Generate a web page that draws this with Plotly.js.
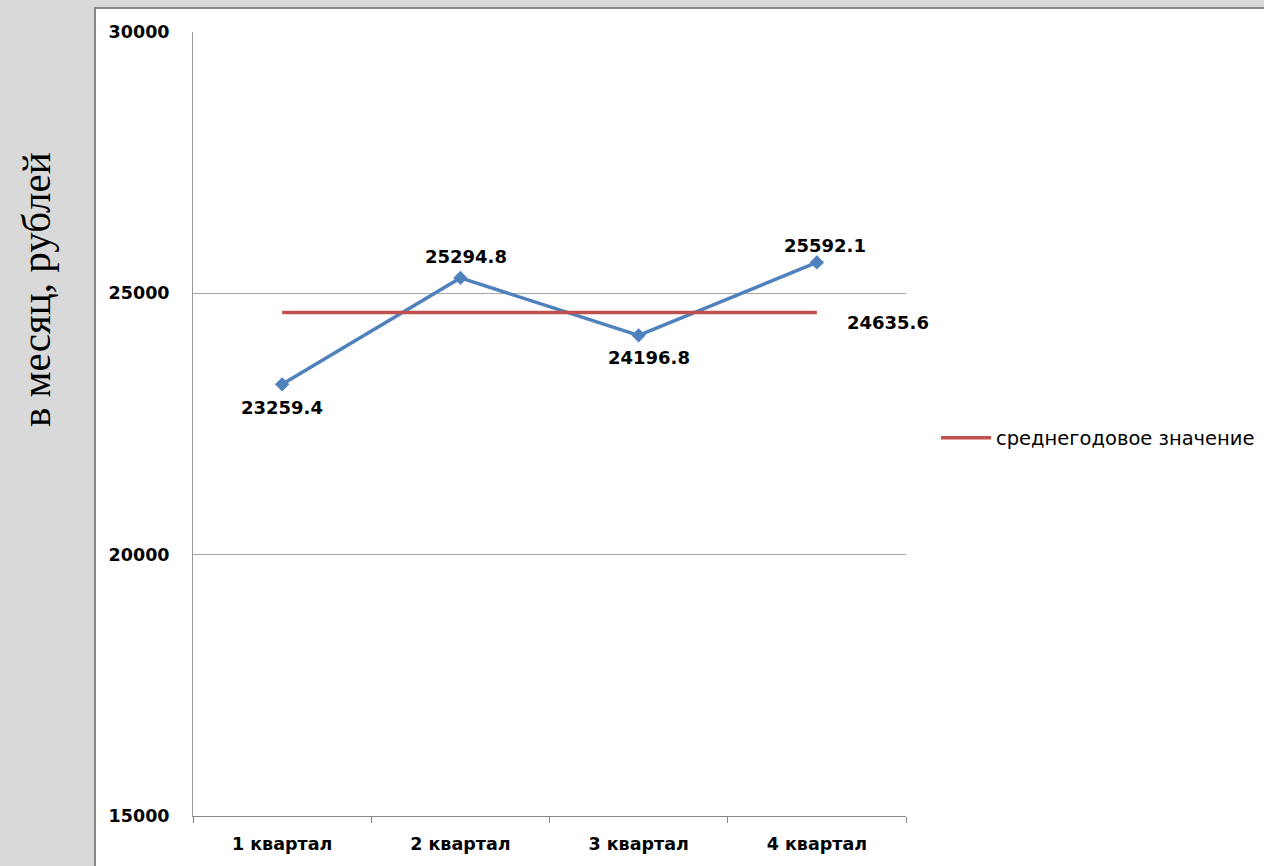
<!DOCTYPE html>
<html>
<head>
<meta charset="utf-8">
<script src="https://cdn.plot.ly/plotly-3.0.1.min.js"></script>
<style>html,body{margin:0;padding:0;background:#d9d9d9;}#chart{width:1264px;height:866px;}</style>
</head>
<body>
<div id="chart"></div>
<script>
const categories = ['1 квартал', '2 квартал', '3 квартал', '4 квартал'];
const quarterValues = [23259.4, 25294.8, 24196.8, 25592.1];
const averageValue = 24635.6;
const averageValues = [averageValue, averageValue, averageValue, averageValue];
const averageName = 'среднегодовое значение';
const yTitle = 'в месяц, рублей';
const yTickValues = [15000, 20000, 25000, 30000];

const W = 1264, H = 866;
const L = 193, R = 358, T = 32, B = 50;
const pw = W - L - R, ph = H - T - B;
const px = v => (v - L) / pw;
const py = v => (H - B - v) / ph;

const labelOffsets = [[0, -23], [6, 21], [10, -22], [8, 17]];
const labelFont = {family: 'DejaVu Sans', size: 18, color: '#000', weight: 'bold'};
const tickFont = {family: 'DejaVu Sans', size: 17.5, color: '#000', weight: 'bold'};

const annotations = quarterValues.map((v, i) => ({
  x: categories[i], y: v, xref: 'x', yref: 'y', text: v.toFixed(1),
  showarrow: false, xshift: labelOffsets[i][0], yshift: labelOffsets[i][1],
  font: labelFont
}));
annotations.push({
  x: categories[categories.length - 1], y: averageValue, xref: 'x', yref: 'y',
  text: averageValue.toFixed(1), showarrow: false, xshift: 71, yshift: -10, font: labelFont
});
annotations.push({
  x: px(36), y: py(290), xref: 'paper', yref: 'paper', text: yTitle, textangle: -90,
  showarrow: false, xanchor: 'center', yanchor: 'middle',
  font: {family: 'Liberation Serif', size: 41, color: '#000'}
});

const traces = [
  {
    x: categories, y: quarterValues, type: 'scatter', mode: 'lines+markers',
    line: {color: '#4f81bd', width: 3.5},
    marker: {symbol: 'diamond', size: 11, color: '#4f81bd'},
    showlegend: false, hoverinfo: 'x+y'
  },
  {
    x: categories, y: averageValues, type: 'scatter', mode: 'lines',
    name: averageName,
    line: {color: '#c0504d', width: 3.5},
    showlegend: true
  }
];

const layout = {
  width: W, height: H,
  margin: {l: L, r: R, t: T, b: B, pad: 0, autoexpand: false},
  paper_bgcolor: '#d9d9d9',
  plot_bgcolor: 'rgba(0,0,0,0)',
  font: {family: 'DejaVu Sans', color: '#000'},
  shapes: [{
    type: 'rect', xref: 'paper', yref: 'paper', layer: 'below',
    x0: px(95), x1: px(1280), y0: py(8), y1: py(880),
    fillcolor: '#ffffff', line: {color: '#888888', width: 2}
  }],
  xaxis: {
    type: 'category', tickson: 'boundaries', ticks: 'outside', ticklen: 6,
    tickcolor: '#888', showgrid: false, showline: true, linecolor: '#888', linewidth: 1,
    tickfont: tickFont,
    ticklabelstandoff: 12, zeroline: false, range: [-0.5, 3.5]
  },
  yaxis: {
    range: [15000, 30000], tickvals: yTickValues, ticktext: yTickValues.map(String),
    showgrid: true, gridcolor: '#a6a6a6', gridwidth: 1,
    showline: true, linecolor: '#999', linewidth: 1, zeroline: false, ticks: '',
    tickfont: tickFont,
    ticklabelstandoff: 19
  },
  legend: {
    x: px(936), y: py(438), xanchor: 'left', yanchor: 'middle',
    bgcolor: 'rgba(0,0,0,0)', itemwidth: 50,
    font: {family: 'DejaVu Sans', size: 19.5, color: '#000'}
  },
  annotations: annotations
};

Plotly.newPlot('chart', traces, layout, {displayModeBar: false, staticPlot: true});
</script>
</body>
</html>
